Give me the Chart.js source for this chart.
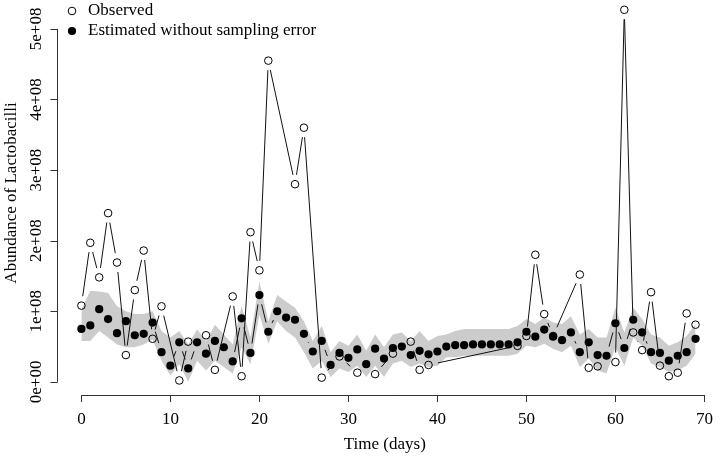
<!DOCTYPE html>
<html>
<head>
<meta charset="utf-8">
<script src="https://cdn.jsdelivr.net/npm/chart.js@4/dist/chart.umd.min.js"></script>
<style>
  html, body { margin: 0; padding: 0; background: #fff; }
</style>
</head>
<body>
<canvas id="grafico" width="720" height="457"></canvas>
<script>
// values are in units of 1e+08
const days = [0,1,2,3,4,5,6,7,8,9,10,11,12,13,14,15,16,17,18,19,20,21,22,23,24,25,26,27,28,29,
  30,31,32,33,34,35,36,37,38,39,40,41,42,43,44,45,46,47,48,49,50,51,52,53,54,55,56,57,58,59,
  60,61,62,63,64,65,66,67,68,69];

const estimated = [0.75,0.80,1.03,0.89,0.69,0.86,0.66,0.68,0.84,0.42,0.23,0.56,0.19,0.56,0.40,0.58,0.49,0.29,0.90,0.41,
  1.23,0.71,1.00,0.91,0.88,0.68,0.43,0.58,0.24,0.41,0.34,0.46,0.25,0.47,0.33,0.48,0.50,0.38,0.44,0.39,
  0.43,0.50,0.52,0.52,0.53,0.53,0.53,0.53,0.53,0.56,0.71,0.64,0.74,0.64,0.59,0.70,0.42,0.56,0.38,0.37,
  0.83,0.48,0.88,0.70,0.42,0.41,0.30,0.37,0.42,0.61];

const bandLow = [0.58,0.58,0.72,0.63,0.53,0.49,0.49,0.53,0.60,0.30,0.09,0.25,0.00,0.30,0.16,0.30,0.21,0.12,0.49,0.25,
  0.95,0.54,0.86,0.72,0.63,0.42,0.19,0.30,0.07,0.19,0.14,0.23,0.07,0.23,0.07,0.26,0.30,0.21,0.26,0.21,
  0.23,0.35,0.35,0.37,0.37,0.37,0.37,0.37,0.37,0.40,0.51,0.49,0.54,0.47,0.42,0.51,0.21,0.33,0.16,0.12,
  0.49,0.23,0.63,0.51,0.26,0.21,0.14,0.16,0.23,0.40];

const bandHigh = [1.02,1.29,1.28,1.26,1.07,1.00,0.96,0.96,1.00,0.72,0.63,0.72,0.53,0.74,0.58,0.81,0.67,0.53,1.07,0.63,
  1.42,0.86,1.23,1.14,1.05,0.86,0.58,0.79,0.42,0.58,0.51,0.67,0.44,0.67,0.49,0.67,0.70,0.58,0.72,0.58,
  0.65,0.67,0.72,0.75,0.75,0.75,0.75,0.75,0.75,0.79,0.89,0.82,0.91,0.84,0.82,0.93,0.67,0.75,0.63,0.63,
  1.05,0.70,1.05,0.89,0.67,0.63,0.51,0.56,0.65,0.82];

const obsDays = [0,1,2,3,4,5,6,7,8,9,11,12,14,15,17,18,19,20,21,24,25,27,29,31,33,35,37,38,39,
  49,50,51,52,53,56,57,58,60,61,62,63,64,65,66,67,68,69];
const observed = [1.08,1.97,1.48,2.39,1.69,0.38,1.30,1.86,0.61,1.07,0.02,0.57,0.66,0.17,1.21,0.08,2.12,1.58,4.55,2.80,3.60,0.06,0.36,0.13,0.11,0.40,0.57,0.17,0.24,
  0.51,0.65,1.80,0.96,0.65,1.52,0.20,0.22,0.28,5.27,0.70,0.45,1.27,0.23,0.08,0.13,0.97,0.81];

const xTicks = [0,10,20,30,40,50,60,70];
const yTicks = [0,1,2,3,4,5];
const yTickLabels = ["0e+00","1e+08","2e+08","3e+08","4e+08","5e+08"];
const legendLabels = ["Observed", "Estimated without sampling error"];

const FONT = "'Liberation Serif', 'Times New Roman', serif";
const AXIS = "#333";

const pts = (xs, ys) => xs.map((x, i) => ({ x: x, y: ys[i] }));

// R style "type = b": segments between points, with a gap round each point
const rStyle = {
  id: "rStyle",
  beforeDatasetDraw(chart, args) {
    const ds = chart.data.datasets[args.index];
    if (!ds.gapLine) return;
    const ctx = chart.ctx;
    const el = args.meta.data;
    const g = ds.gapLine.gap;
    ctx.save();
    ctx.strokeStyle = ds.gapLine.color;
    ctx.lineWidth = 1;
    ctx.beginPath();
    for (let i = 1; i < el.length; i++) {
      const a = el[i - 1], b = el[i];
      const dx = b.x - a.x, dy = b.y - a.y;
      const len = Math.hypot(dx, dy);
      if (len <= 2 * g) continue;
      const ux = dx / len, uy = dy / len;
      ctx.moveTo(a.x + ux * g, a.y + uy * g);
      ctx.lineTo(b.x - ux * g, b.y - uy * g);
    }
    ctx.stroke();
    ctx.restore();
  },
  afterDraw(chart) {
    const ctx = chart.ctx;
    const xs = chart.scales.x, ys = chart.scales.y;
    const area = chart.chartArea;
    ctx.save();
    ctx.strokeStyle = AXIS;
    ctx.lineWidth = 1;
    // x axis line, tick to tick
    const yb = Math.round(area.bottom) + 0.5;
    ctx.beginPath();
    ctx.moveTo(xs.getPixelForValue(xTicks[0]), yb);
    ctx.lineTo(xs.getPixelForValue(xTicks[xTicks.length - 1]), yb);
    ctx.stroke();
    // y axis: line, ticks, rotated labels
    const xl = Math.round(area.left) + 0.5;
    ctx.beginPath();
    ctx.moveTo(xl, ys.getPixelForValue(yTicks[0]));
    ctx.lineTo(xl, ys.getPixelForValue(yTicks[yTicks.length - 1]));
    yTicks.forEach(v => {
      const py = Math.round(ys.getPixelForValue(v)) + 0.5;
      ctx.moveTo(xl, py);
      ctx.lineTo(xl - 7, py);
    });
    ctx.stroke();
    ctx.fillStyle = "#000";
    ctx.font = "17px " + FONT;
    ctx.textAlign = "center";
    ctx.textBaseline = "middle";
    yTicks.forEach((v, i) => {
      ctx.save();
      ctx.translate(37, ys.getPixelForValue(v));
      ctx.rotate(-Math.PI / 2);
      ctx.fillText(yTickLabels[i], 0, 0);
      ctx.restore();
    });
    // y title, centred as in the original plot region
    ctx.save();
    ctx.translate(12, 193);
    ctx.rotate(-Math.PI / 2);
    ctx.fillText("Abundance of Lactobacilli", 0, 0);
    ctx.restore();
    // legend
    ctx.textAlign = "left";
    ctx.beginPath();
    ctx.arc(72, 11, 3.8, 0, Math.PI * 2);
    ctx.strokeStyle = "#000";
    ctx.stroke();
    ctx.beginPath();
    ctx.arc(72, 31, 4.1, 0, Math.PI * 2);
    ctx.fill();
    ctx.fillText(legendLabels[0], 88, 11);
    ctx.fillText(legendLabels[1], 88, 31);
    ctx.restore();
  }
};

new Chart(document.getElementById("grafico").getContext("2d"), {
  type: "line",
  data: {
    datasets: [
      {
        label: legendLabels[0],
        data: pts(obsDays, observed),
        showLine: false,
        pointRadius: 3.8,
        pointBorderWidth: 1,
        pointBorderColor: "#000",
        pointBackgroundColor: "rgba(0,0,0,0)",
        gapLine: { color: "#111", gap: 9.5 },
        clip: false,
        order: 0
      },
      {
        label: legendLabels[1],
        data: pts(days, estimated),
        showLine: false,
        pointRadius: 4.1,
        pointBorderWidth: 0,
        pointBackgroundColor: "#000",
        gapLine: { color: "#111", gap: 9.5 },
        clip: false,
        order: 1
      },
      {
        label: "low",
        data: pts(days, bandLow),
        borderWidth: 0,
        pointRadius: 0,
        fill: false,
        order: 3
      },
      {
        label: "high",
        data: pts(days, bandHigh),
        borderWidth: 0,
        pointRadius: 0,
        backgroundColor: "#cccccc",
        fill: "-1",
        order: 2
      }
    ]
  },
  options: {
    responsive: false,
    animation: false,
    events: [],
    layout: { padding: 0 },
    plugins: { legend: { display: false }, tooltip: { enabled: false } },
    scales: {
      x: {
        type: "linear",
        min: -2.74,
        max: 70.92,
        afterBuildTicks: s => { s.ticks = xTicks.map(v => ({ value: v })); },
        afterFit: s => { s.height = 62; },
        border: { display: false },
        grid: { drawOnChartArea: false, drawTicks: true, tickLength: 7, color: AXIS },
        ticks: { color: "#000", font: { family: FONT, size: 17 }, padding: 7, maxRotation: 0 },
        title: { display: true, text: "Time (days)", color: "#000", font: { family: FONT, size: 17 }, padding: { top: 0, bottom: 2 } }
      },
      y: {
        type: "linear",
        min: -0.186,
        max: 5.338,
        afterFit: s => { s.width = 57; },
        border: { display: false },
        grid: { display: false },
        ticks: { display: false },
        title: { display: false }
      }
    }
  },
  plugins: [rStyle]
});
</script>
</body>
</html>
